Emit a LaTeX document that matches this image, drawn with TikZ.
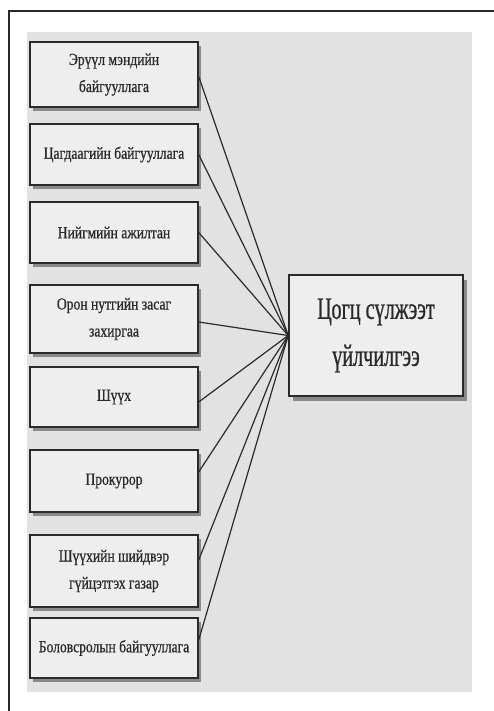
\documentclass[tikz,border=0pt]{standalone}
\usepackage{fontspec}
\setmainfont{Liberation Serif}
\newfontfamily\boxfont[FakeStretch=0.8,FakeBold=0.6]{Liberation Serif}
\newfontfamily\bigfont[FakeStretch=0.65,FakeBold=0.8]{Liberation Serif}
\usetikzlibrary{shadows}
\definecolor{ink}{HTML}{2A2A2A}
\definecolor{bggray}{HTML}{E2E2E2}
\definecolor{boxfill}{HTML}{EEEEEE}
\definecolor{shade}{HTML}{8A8A8A}
\tikzset{
  leftbox/.style={draw=ink, line width=1.4pt, fill=boxfill, minimum width=168pt,
    align=center, text=ink, inner sep=2pt,
    font=\boxfont\fontsize{17}{27}\selectfont,
    drop shadow={shadow xshift=2.5pt, shadow yshift=-4pt, fill=shade, opacity=1}},
  mainbox/.style={draw=ink, line width=1.6pt, fill=boxfill, minimum width=174pt,
    minimum height=121pt, align=center, text=ink,
    font=\bigfont\fontsize{31}{47}\selectfont,
    drop shadow={shadow xshift=4pt, shadow yshift=-5pt, fill=shade, opacity=1}},
  link/.style={draw=ink, line width=1.2pt}
}
\begin{document}
\begin{tikzpicture}[x=1pt,y=-1pt]
\useasboundingbox (0,0) rectangle (494,711);
\fill[white] (0,0) rectangle (494,711);
\fill[bggray] (27,32) rectangle (472,692);
\draw[ink, line width=2pt] (9,711) -- (9,11) -- (494,11);

\node[leftbox, minimum height=65pt] (b1) at (114,74.5) {Эрүүл мэндийн\\байгууллага};
\node[leftbox, minimum height=61pt] (b2) at (114,154.5) {Цагдаагийн байгууллага};
\node[leftbox, minimum height=61pt] (b3) at (114,232.5) {Нийгмийн ажилтан};
\node[leftbox, minimum height=68pt] (b4) at (114,319) {Орон нутгийн засаг\\захиргаа};
\node[leftbox, minimum height=60pt] (b5) at (114,397) {Шүүх};
\node[leftbox, minimum height=62pt] (b6) at (114,481) {Прокурор};
\node[leftbox, minimum height=72pt] (b7) at (114,571) {Шүүхийн шийдвэр\\гүйцэтгэх газар};
\node[leftbox, minimum height=60pt] (b8) at (114,648) {Боловсролын байгууллага};

\node[mainbox] (c) at (376,335.5) {Цогц сүлжээт\\үйлчилгээ};

\draw[link] ([yshift=-2pt]b1.east) -- (c.west);
\draw[link] (b2.east) -- (c.west);
\draw[link] (b3.east) -- (c.west);
\draw[link] ([yshift=-3pt]b4.east) -- (c.west);
\draw[link] ([yshift=-5pt]b5.east) -- (c.west);
\draw[link] ([yshift=9pt]b6.east) -- (c.west);
\draw[link] ([yshift=11pt]b7.east) -- (c.west);
\draw[link] ([yshift=8pt]b8.east) -- (c.west);
\end{tikzpicture}
\end{document}
